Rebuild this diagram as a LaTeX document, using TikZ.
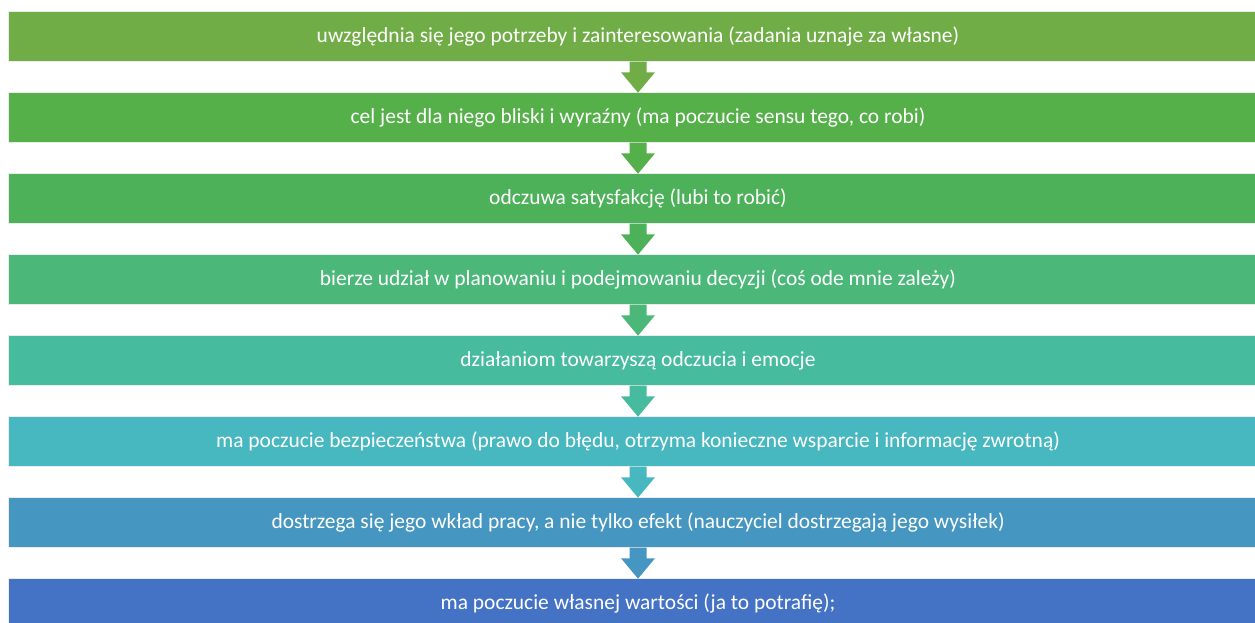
\documentclass[tikz,border=0pt]{standalone}
\usepackage{fontspec}
\setmainfont{Carlito}
\usetikzlibrary{calc}
\definecolor{cA}{HTML}{70AD47}
\definecolor{cB}{HTML}{55B04A}
\definecolor{cC}{HTML}{4CB158}
\definecolor{cD}{HTML}{4BB87A}
\definecolor{cE}{HTML}{47BB9E}
\definecolor{cF}{HTML}{47B7C0}
\definecolor{cG}{HTML}{4596C0}
\definecolor{cH}{HTML}{4472C4}
\begin{document}
\begin{tikzpicture}[x=0.75pt,y=-0.75pt,
  stagebar/.style={rectangle, minimum width=944.55pt, minimum height=37.5pt,
    inner sep=0pt, outer sep=0pt, draw=white!85!gray, line width=0.4pt,
    text=white, font=\fontsize{16.1}{18}\selectfont},
]
\useasboundingbox (0,0) rectangle (1255,623);
\clip (0,0) rectangle (1255,623);

% stacked bars, top to bottom
\node[stagebar, fill=cA] (b1) at (638, 36.7) {uwzględnia się jego potrzeby i zainteresowania (zadania uznaje za własne)};
\node[stagebar, fill=cB] (b2) at (638,117.7) {cel jest dla niego bliski i wyraźny (ma poczucie sensu tego, co robi)};
\node[stagebar, fill=cC] (b3) at (638,198.7) {odczuwa satysfakcję (lubi to robić)};
\node[stagebar, fill=cD] (b4) at (638,279.7) {bierze udział w planowaniu i podejmowaniu decyzji (coś ode mnie zależy)};
\node[stagebar, fill=cE] (b5) at (638,360.7) {działaniom towarzyszą odczucia i emocje};
\node[stagebar, fill=cF] (b6) at (638,441.7) {ma poczucie bezpieczeństwa (prawo do błędu, otrzyma konieczne wsparcie i informację zwrotną)};
\node[stagebar, fill=cG] (b7) at (638,522.7) {dostrzega się jego wkład pracy, a nie tylko efekt (nauczyciel dostrzegają jego wysiłek)};
\node[stagebar, fill=cH] (b8) at (638,603.7) {ma poczucie własnej wartości (ja to potrafię);};

% block arrows between consecutive bars
\foreach \a/\b/\c in {b1/b2/cA, b2/b3/cB, b3/b4/cC, b4/b5/cD, b5/b6/cE, b6/b7/cF, b7/b8/cG} {
  \fill[\c] ($(\a.south)+(-8.5,0)$) -- ($(\a.south)+(-8.5,10.6)$)
    -- ($(\a.south)+(-17,10.6)$) -- (\b.north)
    -- ($(\a.south)+(17,10.6)$) -- ($(\a.south)+(8.5,10.6)$)
    -- ($(\a.south)+(8.5,0)$) -- cycle;
}
\end{tikzpicture}
\end{document}
